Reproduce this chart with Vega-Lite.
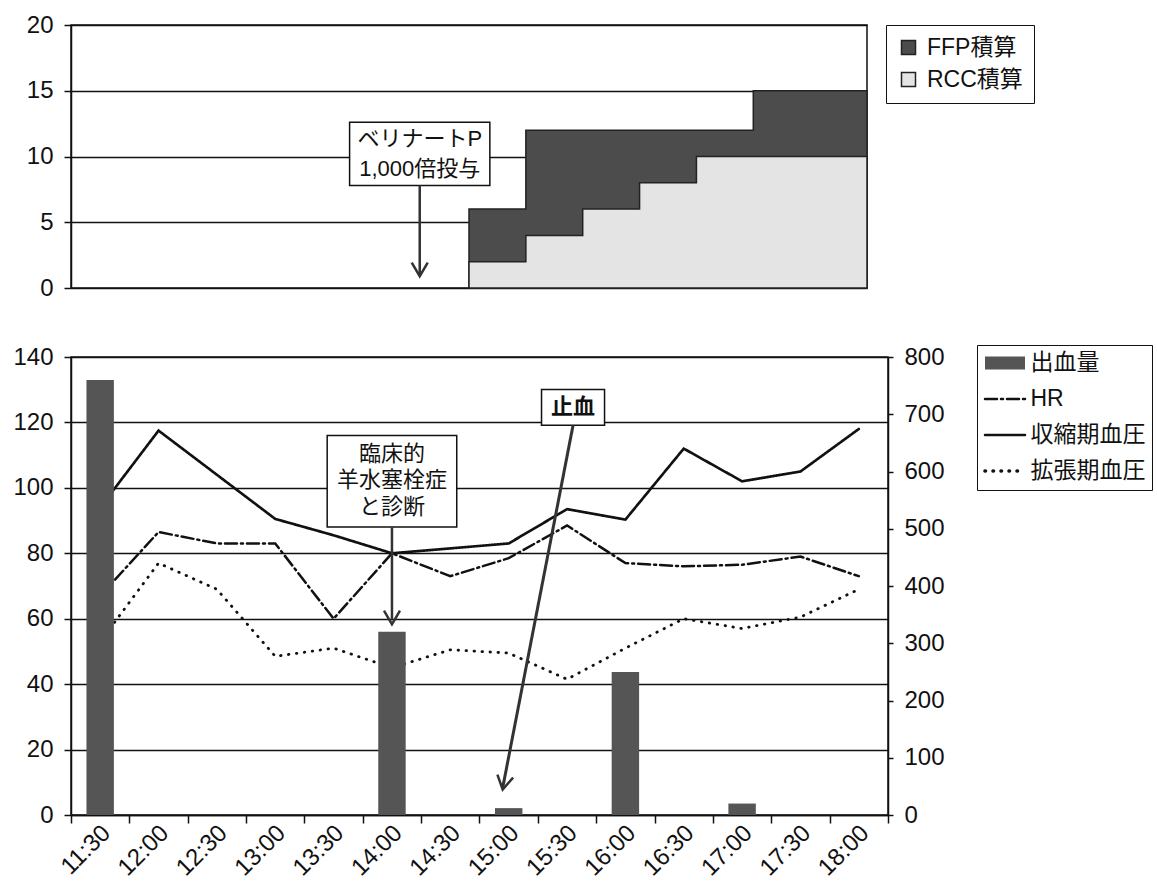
{
  "$schema": "https://vega.github.io/schema/vega-lite/v6.json",
  "background": "white",
  "padding": {"left": 12, "top": 12, "right": 0, "bottom": 0},
  "spacing": 43,
  "align": "none",
  "config": {
    "font": "'Liberation Sans', 'Noto Sans CJK JP', sans-serif",
    "view": {"stroke": "#111", "strokeWidth": 1.5},
    "axis": {
      "title": null,
      "labelFont": "'Liberation Sans', 'Noto Sans CJK JP', sans-serif",
      "labelColor": "#111",
      "labelFontSize": 24,
      "domainColor": "#111",
      "domainWidth": 1.5,
      "tickColor": "#111",
      "tickWidth": 1.5,
      "gridColor": "#111",
      "gridWidth": 1.3,
      "gridOpacity": 1
    },
    "legend": {
      "labelFont": "'Liberation Sans', 'Noto Sans CJK JP', sans-serif",
      "labelColor": "#111",
      "labelFontSize": 23,
      "strokeColor": "#111",
      "fillColor": "white"
    }
  },
  "datasets": {
    "vitals": [
      {"時刻": "11:30", "HR": 67, "収縮期血圧": 94, "拡張期血圧": 53, "出血量": 760},
      {"時刻": "12:00", "HR": 86.5, "収縮期血圧": 117.5, "拡張期血圧": 77, "出血量": 0},
      {"時刻": "12:30", "HR": 83, "収縮期血圧": 104, "拡張期血圧": 69, "出血量": 0},
      {"時刻": "13:00", "HR": 83, "収縮期血圧": 90.5, "拡張期血圧": 48.5, "出血量": 0},
      {"時刻": "13:30", "HR": 60, "収縮期血圧": 85.5, "拡張期血圧": 51, "出血量": 0},
      {"時刻": "14:00", "HR": 80, "収縮期血圧": 80, "拡張期血圧": 45, "出血量": 320},
      {"時刻": "14:30", "HR": 73, "収縮期血圧": 81.5, "拡張期血圧": 50.5, "出血量": 0},
      {"時刻": "15:00", "HR": 78.5, "収縮期血圧": 83, "拡張期血圧": 49.5, "出血量": 12},
      {"時刻": "15:30", "HR": 88.5, "収縮期血圧": 93.5, "拡張期血圧": 41.5, "出血量": 0},
      {"時刻": "16:00", "HR": 77, "収縮期血圧": 90.3, "拡張期血圧": 51, "出血量": 250},
      {"時刻": "16:30", "HR": 76, "収縮期血圧": 112, "拡張期血圧": 60, "出血量": 0},
      {"時刻": "17:00", "HR": 76.5, "収縮期血圧": 102, "拡張期血圧": 57, "出血量": 20},
      {"時刻": "17:30", "HR": 79, "収縮期血圧": 105, "拡張期血圧": 60.5, "出血量": 0},
      {"時刻": "18:00", "HR": 73, "収縮期血圧": 118, "拡張期血圧": 69, "出血量": 0}
    ],
    "transfusion": [
      {"時刻": "2000-01-01T14:45", "製剤": "FFP積算", "単位": 6},
      {"時刻": "2000-01-01T15:15", "製剤": "FFP積算", "単位": 12},
      {"時刻": "2000-01-01T17:15", "製剤": "FFP積算", "単位": 15},
      {"時刻": "2000-01-01T18:15", "製剤": "FFP積算", "単位": 15},
      {"時刻": "2000-01-01T14:45", "製剤": "RCC積算", "単位": 2},
      {"時刻": "2000-01-01T15:15", "製剤": "RCC積算", "単位": 4},
      {"時刻": "2000-01-01T15:45", "製剤": "RCC積算", "単位": 6},
      {"時刻": "2000-01-01T16:15", "製剤": "RCC積算", "単位": 8},
      {"時刻": "2000-01-01T16:45", "製剤": "RCC積算", "単位": 10},
      {"時刻": "2000-01-01T18:15", "製剤": "RCC積算", "単位": 10}
    ]
  },
  "vconcat": [
    {
      "width": 796,
      "height": 263,
      "layer": [
        {
          "data": {"name": "transfusion"},
          "transform": [{"filter": "datum['製剤'] === 'FFP積算'"}],
          "mark": {"type": "area", "interpolate": "step-after", "stroke": "#222", "strokeWidth": 1.5, "opacity": 1},
          "encoding": {
            "x": {"field": "時刻", "type": "temporal", "axis": null,
                  "scale": {"domain": [{"year": 2000, "month": 1, "date": 1, "hours": 11, "minutes": 15}, {"year": 2000, "month": 1, "date": 1, "hours": 18, "minutes": 15}]}},
            "y": {"field": "単位", "type": "quantitative", "stack": null,
                  "scale": {"domain": [0, 20]},
                  "axis": {"values": [0, 5, 10, 15, 20], "grid": true, "tickSize": 7, "labelPadding": 11}},
            "color": {"field": "製剤", "type": "nominal",
                      "scale": {"domain": ["FFP積算", "RCC積算"], "range": ["#4c4c4c", "#e4e4e4"]},
                      "legend": {"orient": "none", "legendX": 815, "legendY": 0, "title": null,
                                 "symbolType": "square", "symbolSize": 196, "symbolStrokeColor": "#111",
                                 "symbolStrokeWidth": 1.5, "symbolOpacity": 1, "rowPadding": 8,
                                 "padding": 11, "labelOffset": 7}}
          }
        },
        {
          "data": {"name": "transfusion"},
          "transform": [{"filter": "datum['製剤'] === 'RCC積算'"}],
          "mark": {"type": "area", "interpolate": "step-after", "stroke": "#222", "strokeWidth": 1.5, "opacity": 1},
          "encoding": {
            "x": {"field": "時刻", "type": "temporal"},
            "y": {"field": "単位", "type": "quantitative", "stack": null},
            "color": {"field": "製剤", "type": "nominal"}
          }
        },
        {
          "data": {"values": [{"始": "2000-01-01T13:42", "終": "2000-01-01T14:56", "下": 7.8, "上": 12.6}]},
          "mark": {"type": "rect", "fill": "white", "stroke": "#111", "strokeWidth": 1.5},
          "encoding": {
            "x": {"field": "始", "type": "temporal"},
            "x2": {"field": "終"},
            "y": {"field": "上", "type": "quantitative"},
            "y2": {"field": "下"}
          }
        },
        {
          "data": {"values": [{"時刻": "2000-01-01T14:19", "位置": 11.3}]},
          "mark": {"type": "text", "text": ["ベリナートP", "1,000倍投与"], "fontSize": 22, "lineHeight": 30, "baseline": "middle", "align": "center", "color": "#111"},
          "encoding": {
            "x": {"field": "時刻", "type": "temporal"},
            "y": {"field": "位置", "type": "quantitative"}
          }
        },
        {
          "data": {"values": [{"時刻": "2000-01-01T14:19", "始": 7.8, "終": 1.0}]},
          "mark": {"type": "rule", "stroke": "#333", "strokeWidth": 2.5},
          "encoding": {
            "x": {"field": "時刻", "type": "temporal"},
            "y": {"field": "始", "type": "quantitative"},
            "y2": {"field": "終"}
          }
        },
        {
          "data": {"values": [{"時刻": "2000-01-01T14:19", "先端": 0.9}]},
          "mark": {"type": "point", "shape": "M-1,-1.7L0,0L1,-1.7", "filled": false, "stroke": "#333", "strokeWidth": 2.5, "size": 256, "opacity": 1},
          "encoding": {
            "x": {"field": "時刻", "type": "temporal"},
            "y": {"field": "先端", "type": "quantitative"}
          }
        }
      ]
    },
    {
      "width": 817,
      "height": 458,
      "resolve": {"scale": {"y": "independent"}},
      "layer": [
        {
          "data": {"name": "vitals"},
          "transform": [{"fold": ["HR", "収縮期血圧", "拡張期血圧"], "as": ["系列", "値"]}],
          "mark": {"type": "line", "stroke": "#111", "strokeCap": "round"},
          "encoding": {
            "x": {"field": "時刻", "type": "ordinal",
                  "scale": {"type": "band", "domain": ["11:30", "12:00", "12:30", "13:00", "13:30", "14:00", "14:30", "15:00", "15:30", "16:00", "16:30", "17:00", "17:30", "18:00"], "paddingInner": 0, "paddingOuter": 0},
                  "axis": {"labelAngle": -45, "labelBaseline": "middle", "labelAlign": "right", "tickBand": "extent", "labelFontSize": 24, "tickSize": 8, "labelPadding": 6, "labelOffset": 6, "grid": false}},
            "y": {"field": "値", "type": "quantitative",
                  "scale": {"domain": [0, 140]},
                  "axis": {"orient": "left", "values": [0, 20, 40, 60, 80, 100, 120, 140], "grid": true, "tickSize": 7, "labelPadding": 11}},
            "strokeWidth": {"field": "系列", "type": "ordinal",
                            "scale": {"domain": ["HR", "収縮期血圧", "拡張期血圧"], "range": [2.5, 2.8, 3.8]},
                            "legend": null},
            "strokeDash": {"field": "系列", "type": "nominal",
                           "scale": {"domain": ["出血量", "HR", "収縮期血圧", "拡張期血圧"], "range": [[1, 0], [12, 4, 2, 4], [1, 0], [0.5, 7.5]]},
                           "legend": {"orient": "none", "legendX": 906, "legendY": 320, "title": null,
                                      "symbolType": "stroke", "symbolSize": 1600, "symbolStrokeWidth": 2.5,
                                      "symbolStrokeColor": "#111", "rowPadding": 12, "padding": 6.5,
                                      "symbolOffset": 10, "labelOffset": 14,
                                      "encode": {"symbols": {"update": {
                                        "shape": {"signal": "datum.value === '出血量' ? 'M-1,-0.33H1V0.33H-1Z' : 'stroke'"},
                                        "fill": {"signal": "datum.value === '出血量' ? '#555555' : 'transparent'"},
                                        "stroke": {"signal": "datum.value === '出血量' ? '#555555' : '#111111'"},
                                        "strokeWidth": {"signal": "datum.value === '出血量' ? 0 : datum.value === '拡張期血圧' ? 3.6 : 2.5"},
                                        "strokeCap": {"value": "round"},
                                        "opacity": {"value": 1}
                                      }}}}}
          }
        },
        {
          "data": {"name": "vitals"},
          "mark": {"type": "bar", "width": {"band": 0.47}, "fill": "#555555"},
          "encoding": {
            "x": {"field": "時刻", "type": "ordinal"},
            "y": {"field": "出血量", "type": "quantitative",
                  "scale": {"domain": [0, 800]},
                  "axis": {"orient": "right", "values": [0, 100, 200, 300, 400, 500, 600, 700, 800], "grid": false, "tickSize": 5, "labelPadding": 11}}
          }
        },
        {
          "data": {"values": [{"時刻": "14:00", "上": 116, "下": 88}]},
          "mark": {"type": "bar", "width": {"band": 2.22}, "fill": "white", "stroke": "#111", "strokeWidth": 1.5},
          "encoding": {
            "x": {"field": "時刻", "type": "ordinal"},
            "y": {"field": "上", "type": "quantitative", "scale": {"domain": [0, 140]}, "axis": null},
            "y2": {"field": "下"}
          }
        },
        {
          "data": {"values": [{"時刻": "14:00", "位置": 110.5}]},
          "mark": {"type": "text", "text": ["臨床的", "羊水塞栓症", "と診断"], "fontSize": 22, "lineHeight": 26.5, "baseline": "middle", "align": "center", "color": "#111"},
          "encoding": {
            "x": {"field": "時刻", "type": "ordinal"},
            "y": {"field": "位置", "type": "quantitative", "scale": {"domain": [0, 140]}, "axis": null}
          }
        },
        {
          "data": {"values": [{"時刻": "14:00", "始": 88, "終": 59.5}]},
          "mark": {"type": "rule", "stroke": "#333", "strokeWidth": 2.5},
          "encoding": {
            "x": {"field": "時刻", "type": "ordinal"},
            "y": {"field": "始", "type": "quantitative", "scale": {"domain": [0, 140]}, "axis": null},
            "y2": {"field": "終"}
          }
        },
        {
          "data": {"values": [{"時刻": "14:00", "先端": 58.3}]},
          "mark": {"type": "point", "shape": "M-1,-1.7L0,0L1,-1.7", "filled": false, "stroke": "#333", "strokeWidth": 2.5, "size": 256, "opacity": 1},
          "encoding": {
            "x": {"field": "時刻", "type": "ordinal"},
            "y": {"field": "先端", "type": "quantitative", "scale": {"domain": [0, 140]}, "axis": null}
          }
        },
        {
          "data": {"values": [{"時刻": "15:30", "上": 130.1, "下": 119.1}]},
          "mark": {"type": "bar", "width": {"band": 1.08}, "xOffset": 6, "fill": "white", "stroke": "#111", "strokeWidth": 1.5},
          "encoding": {
            "x": {"field": "時刻", "type": "ordinal"},
            "y": {"field": "上", "type": "quantitative", "scale": {"domain": [0, 140]}, "axis": null},
            "y2": {"field": "下"}
          }
        },
        {
          "data": {"values": [{"時刻": "15:30", "位置": 124.6}]},
          "mark": {"type": "text", "text": "止血", "fontSize": 22, "fontWeight": "bold", "baseline": "middle", "align": "center", "dx": 6, "color": "#111"},
          "encoding": {
            "x": {"field": "時刻", "type": "ordinal"},
            "y": {"field": "位置", "type": "quantitative", "scale": {"domain": [0, 140]}, "axis": null}
          }
        },
        {
          "data": {"values": [{"起点": "15:30", "終点": "15:00", "始": 119.1, "終": 8.3}]},
          "mark": {"type": "rule", "stroke": "#333", "strokeWidth": 3, "xOffset": 6, "x2Offset": -6},
          "encoding": {
            "x": {"field": "起点", "type": "ordinal"},
            "x2": {"field": "終点"},
            "y": {"field": "始", "type": "quantitative", "scale": {"domain": [0, 140]}, "axis": null},
            "y2": {"field": "終"}
          }
        },
        {
          "data": {"values": [{"時刻": "15:00", "先端": 7.8}]},
          "mark": {"type": "point", "shape": "M-1,-1.7L0,0L1,-1.7", "filled": false, "stroke": "#333", "strokeWidth": 2.5, "size": 256, "opacity": 1, "angle": 11, "xOffset": -6},
          "encoding": {
            "x": {"field": "時刻", "type": "ordinal"},
            "y": {"field": "先端", "type": "quantitative", "scale": {"domain": [0, 140]}, "axis": null}
          }
        }
      ]
    }
  ]
}
